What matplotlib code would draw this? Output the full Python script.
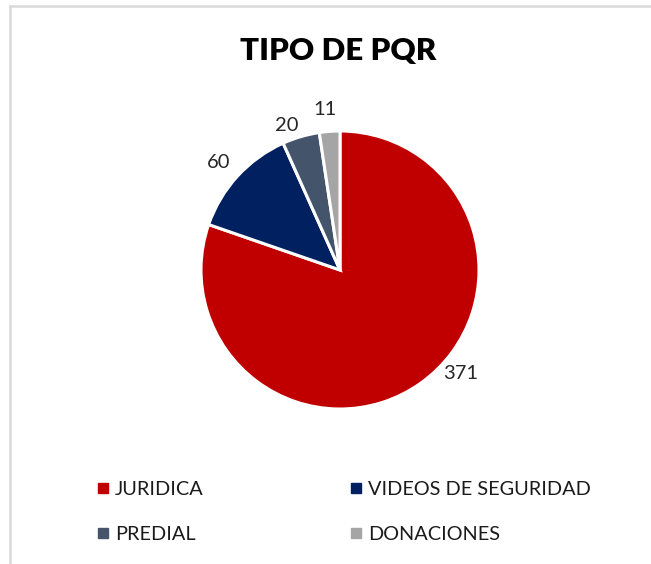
import numpy as np
import matplotlib.pyplot as plt
from matplotlib.lines import Line2D

plt.rcParams['font.family'] = ['Lato', 'DejaVu Sans']

categories = ['JURIDICA', 'VIDEOS DE SEGURIDAD', 'PREDIAL', 'DONACIONES']
values = [371, 60, 20, 11]
colors = ['#C00000', '#002060', '#44546A', '#A5A5A5']

fig = plt.figure(figsize=(6.51, 5.64), dpi=100)

# chart frame (light gray, top and left edges visible)
fig.add_artist(Line2D([10/651, 10/651], [0, 1 - 6/564], color='#D9D9D9', lw=1.8))
fig.add_artist(Line2D([10/651, 1], [1 - 6/564, 1 - 6/564], color='#D9D9D9', lw=1.8))

fig.text(338/651, 1 - 51/564, 'TIPO DE PQR', ha='center', va='center',
         fontsize=22.5, fontweight='heavy')

r_px = 139
ax = fig.add_axes([(340 - r_px)/651, (564 - 270 - r_px)/564, 2*r_px/651, 2*r_px/564])
wedges, _ = ax.pie(values, colors=colors, startangle=90, counterclock=False,
                   wedgeprops=dict(edgecolor='white', linewidth=2.2))
ax.set_xlim(-1, 1)
ax.set_ylim(-1, 1)
ax.axis('off')

# data labels outside the slices
label_shift = [14, 1, 4, 1]
label_dist = [1.14, 1.17, 1.11, 1.16]
for w, v, s, d in zip(wedges, values, label_shift, label_dist):
    ang = np.radians((w.theta1 + w.theta2) / 2 + s)
    ax.text(d*np.cos(ang), d*np.sin(ang), str(v), ha='center', va='center',
            fontsize=14.5, color='#262626')

handles = [Line2D([], [], marker='s', linestyle='', markersize=6.5, color=c)
           for c in colors]
order = [0, 2, 1, 3]
fig.legend([handles[i] for i in order], [categories[i] for i in order],
           ncol=2, loc='upper left', bbox_to_anchor=(79/651, 1 - 463/564),
           frameon=False, fontsize=14.3, handlelength=0.6, handletextpad=0.3,
           columnspacing=7.4, labelspacing=1.4, labelcolor='#1a1a1a')

fig.savefig('out.png', dpi=100)
